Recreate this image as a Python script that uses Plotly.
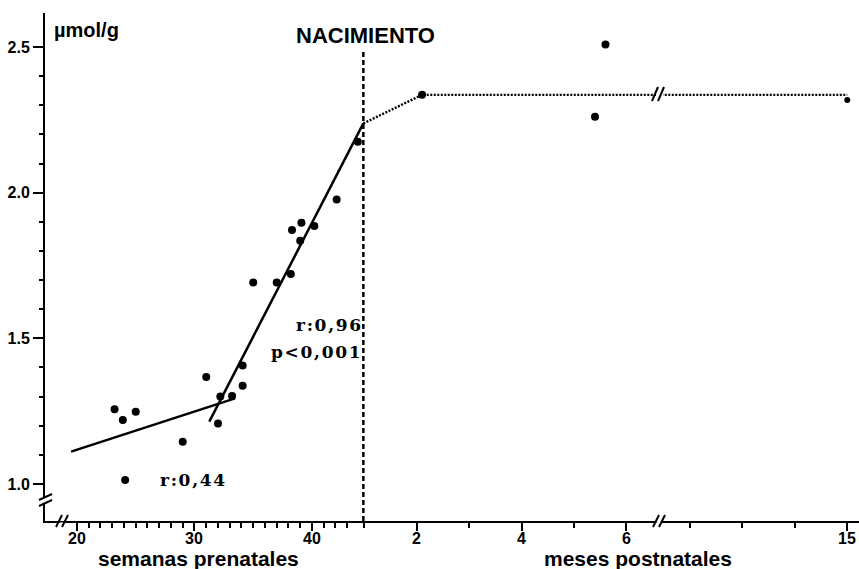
import plotly.graph_objects as go

# ---------------- data ----------------
PRE_WEEKS = [23.2, 23.9, 25.0, 24.1, 29.0, 31.0, 32.0, 32.2, 33.2, 34.1, 34.1,
             35.0, 37.0, 38.2, 38.3, 39.1, 39.0, 40.2, 42.1, 43.9]
PRE_VALUES = [1.257, 1.220, 1.248, 1.014, 1.145, 1.367, 1.208, 1.300, 1.302, 1.407,
              1.337, 1.692, 1.692, 1.721, 1.872, 1.897, 1.835, 1.886, 1.977, 2.175]

POST_MONTHS = [2.1, 5.4, 5.6]
POST_VALUES = [2.336, 2.261, 2.509]
LATE_MONTHS = [15]
LATE_VALUES = [2.318]

FIT_EARLY_WEEKS = [19.5, 33.45]
FIT_EARLY_VALUES = [1.111, 1.294]
FIT_LATE_WEEKS = [31.26, 44.37]
FIT_LATE_VALUES = [1.214, 2.238]

BIRTH_WEEK = 44.37
POST_MEAN_MONTHS = [2.1, 15]
POST_MEAN_VALUE = 2.336

WEEK_TICKS = [20, 30, 40]
WEEK_MINOR = [21, 22, 23, 24, 25, 26, 27, 28, 29, 31, 32, 33, 34, 35, 36, 37, 38, 39, 41, 42, 43]
MONTH_TICKS = [2, 4, 6, 15]
MONTH_MINOR = [1, 3, 5, 12, 13, 14]
Y_TICKS = [1.0, 1.5, 2.0, 2.5]
Y_TICK_LABELS = ["1.0", "1.5", "2.0", "2.5"]
Y_MINOR = [1.1, 1.2, 1.3, 1.4, 1.6, 1.7, 1.8, 1.9, 2.1, 2.2, 2.3, 2.4]

WEEKS_PER_MONTH = 4.46


def month_pos(m):
    """Map postnatal months onto the shared (broken) week axis."""
    if m <= 6.5:
        return 40 + m * WEEKS_PER_MONTH
    return 72.17 + (m - 12) * WEEKS_PER_MONTH


# ---------------- layout geometry ----------------
W, H = 859, 569
L, R, T, B = 45, 0, 13, 48
PW, PH = W - L - R, H - T - B
X_RANGE = [17.28, 86.55]
Y_RANGE = [0.873, 2.617]


def px(xp):
    return (xp - L) / PW


def py(yp):
    return (H - B - yp) / PH


FONT = "Liberation Sans, Arial, sans-serif"
SLAB = "DejaVu Serif, serif"
HS = "\u200a"  # hair space to widen the slab-serif labels slightly

fig = go.Figure()

# regression lines
fig.add_trace(go.Scatter(x=FIT_EARLY_WEEKS, y=FIT_EARLY_VALUES, mode="lines",
                         line=dict(color="black", width=2.5), hoverinfo="skip"))
fig.add_trace(go.Scatter(x=FIT_LATE_WEEKS, y=FIT_LATE_VALUES, mode="lines",
                         line=dict(color="black", width=2.5), hoverinfo="skip"))

# postnatal dotted mean line
mean_x = [BIRTH_WEEK] + [month_pos(m) for m in POST_MEAN_MONTHS]
mean_y = [FIT_LATE_VALUES[-1], POST_MEAN_VALUE, POST_MEAN_VALUE]
fig.add_trace(go.Scatter(x=mean_x, y=mean_y, mode="lines",
                         line=dict(color="black", width=2.4, dash="2px,1.5px"), hoverinfo="skip"))

# birth line
fig.add_trace(go.Scatter(x=[BIRTH_WEEK, BIRTH_WEEK], y=[Y_RANGE[0], 2.49], mode="lines",
                         line=dict(color="black", width=2.5, dash="5px,3px"), hoverinfo="skip"))

# data points
fig.add_trace(go.Scatter(x=PRE_WEEKS, y=PRE_VALUES, mode="markers",
                         marker=dict(color="black", size=8, opacity=1), hoverinfo="skip"))
fig.add_trace(go.Scatter(x=[month_pos(m) for m in POST_MONTHS], y=POST_VALUES, mode="markers",
                         marker=dict(color="black", size=8, opacity=1), hoverinfo="skip"))
fig.add_trace(go.Scatter(x=[month_pos(m) for m in LATE_MONTHS], y=LATE_VALUES, mode="markers",
                         marker=dict(color="black", size=6, opacity=1), hoverinfo="skip"))

tick_vals = WEEK_TICKS + [month_pos(m) for m in MONTH_TICKS]
tick_text = ["%d" % v for v in WEEK_TICKS] + ["%d" % m for m in MONTH_TICKS]
minor_vals = WEEK_MINOR + [month_pos(m) for m in MONTH_MINOR]

fig.update_layout(
    width=W, height=H, autosize=False,
    margin=dict(l=L, r=R, t=T, b=B, pad=0),
    paper_bgcolor="white", plot_bgcolor="white",
    showlegend=False,
    font=dict(family=FONT, color="black"),
    xaxis=dict(range=X_RANGE, showgrid=False, zeroline=False,
               showline=True, linecolor="black", linewidth=2,
               tickmode="array", tickvals=tick_vals, showticklabels=False,
               ticks="outside", ticklen=8, tickwidth=2, tickcolor="black",
               minor=dict(tickmode="array", tickvals=minor_vals, ticks="outside",
                          ticklen=5, tickwidth=2, tickcolor="black", showgrid=False)),
    yaxis=dict(range=Y_RANGE, showgrid=False, zeroline=False,
               showline=True, linecolor="black", linewidth=2,
               tickmode="array", tickvals=Y_TICKS,
               ticktext=["<b>%s</b>" % t for t in Y_TICK_LABELS],
               ticks="outside", ticklen=10, tickwidth=2, tickcolor="black",
               tickfont=dict(size=16, family=FONT, color="black"),
               minor=dict(tickmode="array", tickvals=Y_MINOR, ticks="outside",
                          ticklen=4, tickwidth=2, tickcolor="black", showgrid=False)),
)

# ---------------- text ----------------
ann = []
for v, t in zip(tick_vals, tick_text):
    ann.append(dict(text="<b>%s</b>" % t, x=v, xref="x", y=py(538), yref="paper",
                    xanchor="center", yanchor="middle", showarrow=False,
                    font=dict(size=16, family=FONT)))


def slab(s):
    return HS.join(s)


for a in [
    dict(text="<b>µmol/g</b>", x=px(52), y=py(30), xanchor="left", yanchor="middle",
         font=dict(size=20, family=FONT)),
    dict(text="<b>NACIMIENTO</b>", x=px(365), y=py(35), xanchor="center", yanchor="middle",
         font=dict(size=22, family=FONT)),
    dict(text="<b>%s</b>" % slab("r:0,96"), x=px(363), y=py(325), xanchor="right", yanchor="middle",
         font=dict(size=17, family=SLAB)),
    dict(text="<b>%s</b>" % slab("p<0,001").replace("<", "&lt;"), x=px(363), y=py(352),
         xanchor="right", yanchor="middle", font=dict(size=17, family=SLAB)),
    dict(text="<b>%s</b>" % slab("r:0,44"), x=px(158), y=py(480), xanchor="left", yanchor="middle",
         font=dict(size=17, family=SLAB)),
    dict(text="<b>semanas prenatales</b>", x=px(198), y=py(558), xanchor="center", yanchor="middle",
         font=dict(size=21, family=FONT)),
    dict(text="<b>meses postnatales</b>", x=px(638), y=py(558), xanchor="center", yanchor="middle",
         font=dict(size=21, family=FONT)),
]:
    a.update(xref="paper", yref="paper", showarrow=False)
    ann.append(a)
fig.update_layout(annotations=ann)

# ---------------- axis-break symbols ----------------
shapes = []


def gap(x0, y0, x1, y1):
    shapes.append(dict(type="rect", xref="paper", yref="paper", layer="above",
                       x0=px(x0), x1=px(x1), y0=py(y0), y1=py(y1),
                       fillcolor="white", line=dict(width=0)))


def stroke(x0, y0, x1, y1, w=2):
    shapes.append(dict(type="line", xref="paper", yref="paper", layer="above",
                       x0=px(x0), x1=px(x1), y0=py(y0), y1=py(y1),
                       line=dict(color="black", width=w)))


# y axis break
gap(40, 497, 50, 503)
stroke(39, 500, 52, 494)
stroke(39, 506, 52, 500)
# x axis break near origin
gap(59.5, 514, 64.5, 519.5)
gap(59.5, 522.5, 64.5, 528)
stroke(56, 527, 62, 515)
stroke(62, 527, 68, 515)
# x axis break postnatal
gap(656.5, 519, 661.5, 523)
stroke(653, 527, 659, 515)
stroke(659, 527, 665, 515)
# dotted line break
gap(656, 92, 663, 98)
stroke(652, 101, 658, 87)
stroke(658, 101, 664, 87)
fig.update_layout(shapes=shapes)

fig.write_html("out.html")
